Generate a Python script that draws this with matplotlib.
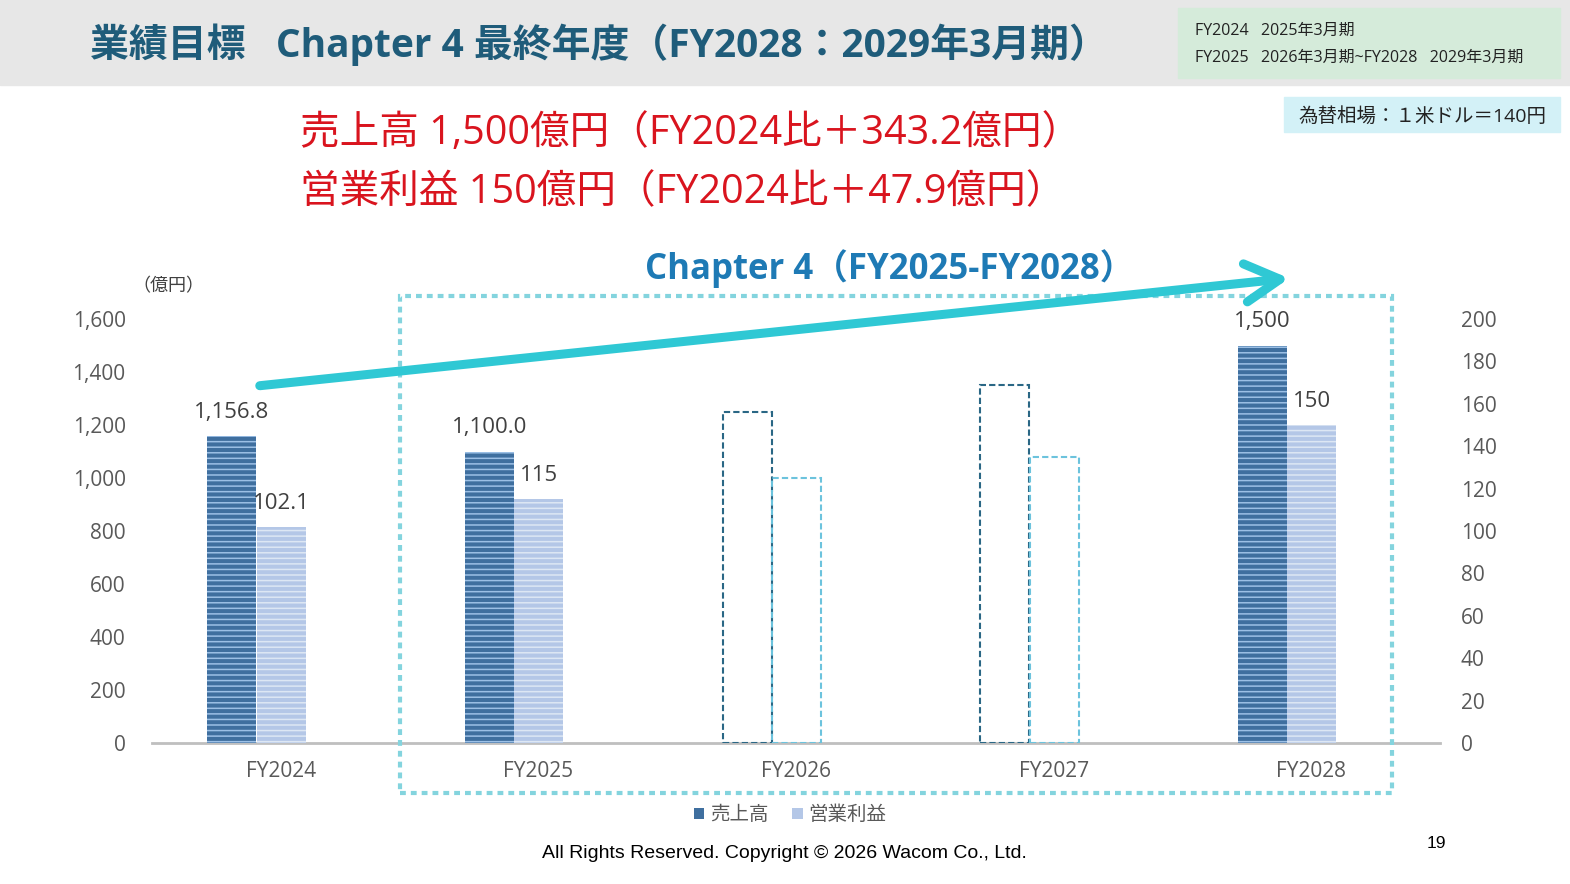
import matplotlib
matplotlib.use("Agg")
import matplotlib.pyplot as plt
from matplotlib.patches import Rectangle, Patch, FancyArrowPatch

plt.rcParams['font.family'] = ['Open Sans', 'Noto Sans CJK JP', 'DejaVu Sans']
plt.rcParams['hatch.linewidth'] = 1.1

# data
years = ['FY2024', 'FY2025', 'FY2026', 'FY2027', 'FY2028']
sales = [1156.8, 1100.0, 1250, 1350, 1500]
profit = [102.1, 115, 125, 135, 150]
is_target = [False, False, True, True, False]   # dashed outline bars
sales_labels = ['1,156.8', '1,100.0', '', '', '1,500']
profit_labels = ['102.1', '115', '', '', '150']
left_ticks = [0, 200, 400, 600, 800, 1000, 1200, 1400, 1600]
right_ticks = [0, 20, 40, 60, 80, 100, 120, 140, 160, 180, 200]

W, H = 1570, 884
fig = plt.figure(figsize=(W / 100, H / 100), dpi=100)

def fx(px):
    return px / W

def fy(py):
    return 1 - py / H

# header band
fig.add_artist(Rectangle((0, fy(85)), 1, 85 / H, transform=fig.transFigure,
                         color='#E7E7E7', zorder=0))
fig.text(fx(90), fy(45), '業績目標   Chapter 4 最終年度（FY2028：2029年3月期）',
         fontsize=28, fontweight='bold', color='#1F5C7A', va='center', ha='left')

fig.add_artist(Rectangle((fx(1178), fy(78)), fx(382), 70 / H, transform=fig.transFigure,
                         color='#D5EBDA', zorder=1))
fig.text(fx(1195), fy(31), 'FY2024   2025年3月期', fontsize=11.5, va='center', color='#222222')
fig.text(fx(1195), fy(58), 'FY2025   2026年3月期~FY2028   2029年3月期', fontsize=11.5,
         va='center', color='#222222')

fig.add_artist(Rectangle((fx(1284), fy(132)), fx(276), 35 / H, transform=fig.transFigure,
                         color='#D3F1F7', zorder=1))
fig.text(fx(1298), fy(116), '為替相場：１米ドル＝140円', fontsize=14, va='center', color='#222222')

# headline
red = '#D9141E'
fig.text(fx(300), fy(134), '売上高 1,500億円（FY2024比＋343.2億円）', fontsize=28.5,
         color=red, va='center')
fig.text(fx(300), fy(193), '営業利益 150億円（FY2024比＋47.9億円）', fontsize=28.5,
         color=red, va='center')

# chart
ax = fig.add_axes([fx(152), fy(743), 1288 / W, 424 / H])
ax2 = ax.twinx()
x = list(range(len(years)))
bw = 0.19
off_s = -0.19
off_p = 0.002

dark = '#3F6F9F'
light = '#B4C7E7'
for i in x:
    if is_target[i]:
        ax.bar(i + off_s, sales[i], bw, facecolor='none', edgecolor='#2A6785',
               linestyle=(0, (3, 1.5)), linewidth=1.5, zorder=3)
        ax2.bar(i + off_p, profit[i], bw, facecolor='none', edgecolor='#6CC3DD',
                linestyle=(0, (3, 1.5)), linewidth=1.5, zorder=3)
    else:
        ax.bar(i + off_s, sales[i], bw, facecolor=dark, edgecolor='#9CC0E6',
               hatch='---', linewidth=0, zorder=3)
        ax2.bar(i + off_p, profit[i], bw, facecolor=light, edgecolor='#DDE7F4',
                hatch='---', linewidth=0, zorder=3)
    if sales_labels[i]:
        ax.text(i + off_s, sales[i] + 50, sales_labels[i], ha='center', va='bottom',
                fontsize=16, color='#404040')
    if profit_labels[i]:
        ax2.text(i + off_p, profit[i] + 6, profit_labels[i], ha='center', va='bottom',
                 fontsize=16, color='#404040')

ax.set_xlim(-0.5, 4.5)
ax.set_ylim(0, 1600)
ax2.set_ylim(0, 200)
ax.set_xticks(x)
ax.set_xticklabels(years)
ax.set_yticks(left_ticks)
ax.set_yticklabels([f'{t:,}' for t in left_ticks])
ax2.set_yticks(right_ticks)
for a in (ax, ax2):
    for s in a.spines.values():
        s.set_visible(False)
    a.patch.set_visible(False)
ax.spines['bottom'].set_visible(True)
ax.spines['bottom'].set_color('#BFBFBF')
ax.spines['bottom'].set_linewidth(2)
ax.tick_params(axis='y', length=0, pad=19, labelsize=15, labelcolor='#595959')
ax.tick_params(axis='x', length=0, pad=13, labelsize=15, labelcolor='#595959')
ax2.tick_params(axis='y', length=0, pad=15, labelsize=15, labelcolor='#595959')
ax.set_zorder(2)
ax2.set_zorder(3)

fig.text(fx(168), fy(286), '（億円）', fontsize=13, color='#404040', ha='center', va='center')

# chapter 4 frame and arrow
fig.add_artist(Rectangle((fx(400), fy(793)), fx(992), 497 / H, transform=fig.transFigure,
                         facecolor='none', edgecolor='#84D4DE', linewidth=3,
                         linestyle=(0, (1.4, 1.2)), zorder=5))
fig.add_artist(FancyArrowPatch((fx(257), fy(386)), (fx(1292), fy(278)),
                               transform=fig.transFigure,
                               arrowstyle='->,head_length=1.0,head_width=0.55',
                               mutation_scale=25, color='#2FC8D4', linewidth=6.5,
                               capstyle='round', joinstyle='round', zorder=6))
fig.text(fx(890), fy(269), 'Chapter 4（FY2025-FY2028）', fontsize=25, fontweight='bold',
         color='#1E7AB5', ha='center', va='center')

# legend
handles = [Patch(facecolor=dark, label='売上高'), Patch(facecolor=light, label='営業利益')]
leg = fig.legend(handles=handles, loc='center', bbox_to_anchor=(fx(790), fy(815)), ncol=2,
                 frameon=False, fontsize=14, handlelength=0.55, handleheight=0.55,
                 handletextpad=0.3, columnspacing=1.2)
for t in leg.get_texts():
    t.set_color('#595959')

# footer
fig.text(fx(784), fy(854), 'All Rights Reserved. Copyright © 2026 Wacom Co., Ltd.',
         fontsize=14, family='Liberation Sans', ha='center', va='center', color='black')
fig.text(fx(1436), fy(843), '19', fontsize=12.5, family='Liberation Sans', ha='center',
         va='center', color='black')

fig.savefig('out.png', dpi=100)
